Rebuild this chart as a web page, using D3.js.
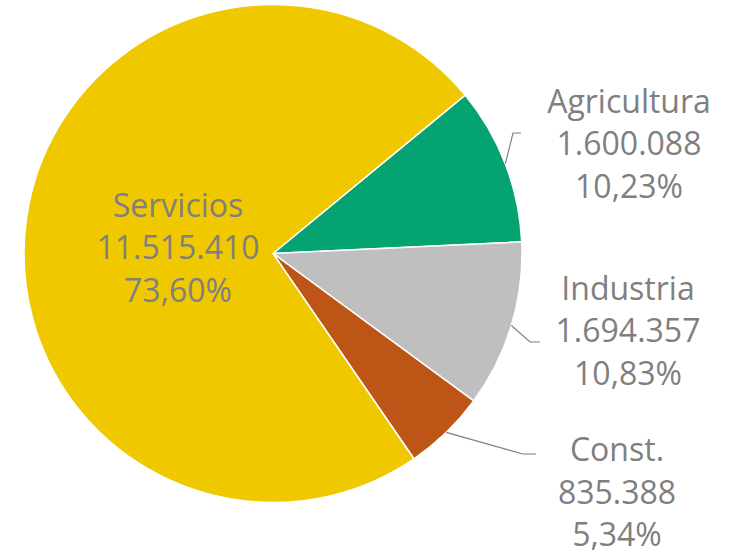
<!DOCTYPE html>
<html><head><meta charset="utf-8">
<script src="https://cdn.jsdelivr.net/npm/d3@7"></script>
<style>body{margin:0;background:#fff;}svg{display:block;}</style>
</head><body>
<svg id="chart" width="732" height="553"></svg>
<script>
// Data
const categories = ["Agricultura", "Industria", "Const.", "Servicios"];
const values = [1600088, 1694357, 835388, 11515410];
const colors = ["#05A372", "#BFBFBF", "#BD5517", "#F0C800"];

// Layout (not data)
const W = 732, H = 553;
const cx = 273, cy = 253.5, R = 249;
const startDeg = 50.5;
const fontSize = 32, lineH = 42.5;
// label anchor (center x, first baseline) and leader bend/end points
const labelLayout = [
  {x: 629, y: 112.5, bend: [513, 133], end: [521, 133]},
  {x: 628, y: 299.5, bend: [530, 342], end: [540, 342]},
  {x: 617, y: 461,   bend: [523, 454], end: [536, 454]},
  {x: 178, y: 216.5, bend: null, end: null}
];

const locale = d3.formatLocale({decimal: ",", thousands: ".", grouping: [3], currency: ["", ""]});
const fmtNum = locale.format(",d");
const fmtPct = locale.format(".2%");

const svg = d3.select("#chart");
const g = svg.append("g").attr("transform", `translate(${cx},${cy})`);
const total = d3.sum(values);
const data = categories.map((c, i) => ({name: c, value: values[i], color: colors[i], layout: labelLayout[i]}));

const start = startDeg * Math.PI / 180;
const pie = d3.pie().sort(null).value(d => d.value).startAngle(start).endAngle(start + 2 * Math.PI);
const arcs = pie(data);
const arc = d3.arc().innerRadius(0).outerRadius(R);

g.selectAll("path.slice").data(arcs).join("path")
  .attr("class", "slice")
  .attr("d", arc)
  .attr("fill", d => d.data.color)
  .attr("stroke", "#fff")
  .attr("stroke-width", 1.5)
  .attr("stroke-linejoin", "round");

// Leader lines
arcs.forEach(a => {
  const L = a.data.layout;
  if (!L.bend) return;
  const mid = (a.startAngle + a.endAngle) / 2;
  const sx = cx + R * Math.sin(mid), sy = cy - R * Math.cos(mid);
  svg.append("polyline")
    .attr("points", [[sx, sy], L.bend, L.end].map(p => p.join(",")).join(" "))
    .attr("fill", "none")
    .attr("stroke", "#7F7F7F")
    .attr("stroke-width", 1.2);
});

// Labels
arcs.forEach(a => {
  const L = a.data.layout;
  const lines = [a.data.name, fmtNum(a.data.value), fmtPct(a.data.value / total)];
  const t = svg.append("text")
    .attr("text-anchor", "middle")
    .attr("font-family", "'Open Sans', sans-serif")
    .attr("font-size", fontSize)
    .attr("fill", "#7F7F7F");
  lines.forEach((ln, i) => {
    t.append("tspan").attr("x", L.x).attr("y", L.y + i * lineH).text(ln);
  });
});
</script>
</body></html>
